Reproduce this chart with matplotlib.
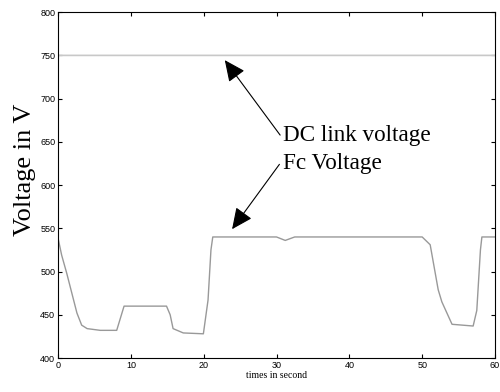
import matplotlib
matplotlib.use('Agg')
import matplotlib.pyplot as plt

# Data
fc_time = [0, 0.5, 1.2, 1.9, 2.6, 3.25, 4.0, 5.8, 8.06, 9.07, 14.9, 15.4, 15.8,
           17.2, 19.96, 20.6, 21.0, 21.25, 30.0, 31.2, 32.5, 50.0, 51.1, 52.2,
           52.7, 54.1, 57.0, 57.5, 58.0, 58.2, 60]
fc_volt = [539, 519, 498, 475, 452, 438, 434, 432, 432, 460, 460, 450, 434,
           429, 428, 467, 525, 540, 540, 536, 540, 540, 531, 479,
           465, 439, 437, 455, 525, 540, 540]
dc_time = [0, 0, 0.05, 60]
dc_volt = [718, 737, 750, 750]

xticks = [0, 10, 20, 30, 40, 50, 60]
yticks = [400, 450, 500, 550, 600, 650, 700, 750, 800]

fig = plt.figure(figsize=(5, 3.92), dpi=100)
ax = fig.add_axes([0.116, 0.0867, 0.874, 0.8823])

ax.plot(dc_time, dc_volt, color='#c8c8c8', lw=1.2)
ax.plot(fc_time, fc_volt, color='#999999', lw=1.0)

ax.set_xlim(0, 60)
ax.set_ylim(400, 800)
ax.set_xticks(xticks)
ax.set_yticks(yticks)
ax.tick_params(direction='in', length=3, width=0.8, labelsize=6.5,
               top=True, right=True, pad=2)
for lab in ax.get_xticklabels() + ax.get_yticklabels():
    lab.set_family('Liberation Sans')
for s in ax.spines.values():
    s.set_linewidth(0.8)

ax.set_xlabel('times in second', family='Liberation Serif', fontsize=7, labelpad=1)
ax.set_ylabel('Voltage in V', family='Liberation Serif', fontsize=19)
ax.yaxis.set_label_coords(-0.05, 0.543)

ax.text(30.9, 651, 'DC link voltage', family='Liberation Serif', fontsize=16.7,
        va='baseline')
ax.text(30.9, 619, 'Fc Voltage', family='Liberation Serif', fontsize=16.7,
        va='baseline')

arrow = dict(arrowstyle='-|>,head_length=1.3,head_width=0.6', color='black',
             lw=0.8, shrinkA=0, shrinkB=0)
ax.annotate('', xy=(22.9, 744.5), xytext=(30.5, 657.8), arrowprops=arrow)
ax.annotate('', xy=(23.9, 549), xytext=(30.4, 624), arrowprops=arrow)

fig.savefig('out.png', dpi=100)
